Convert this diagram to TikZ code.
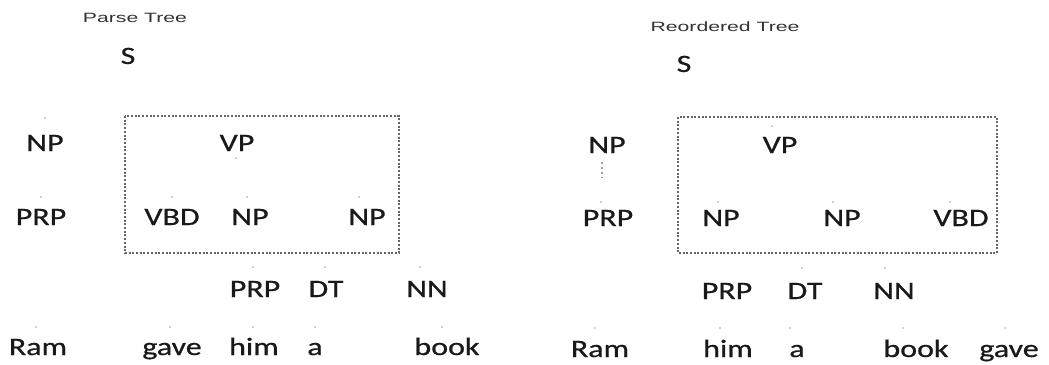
\documentclass[tikz,border=0pt]{standalone}
\usepackage{fontspec}
\setmainfont{Carlito}[FakeBold=0.6]
\newfontfamily\titlefont{Liberation Sans}
\definecolor{boxgray}{HTML}{666666}
\definecolor{dotgray}{HTML}{A0A0A0}
\definecolor{titlegray}{HTML}{333333}
\tikzset{
  tag/.style={anchor=base, inner sep=1pt, xscale=1.28, text=black!90, font=\fontsize{25}{28}\selectfont},
  treetitle/.style={anchor=base, inner sep=1pt, xscale=1.57, text=titlegray, font=\titlefont\fontsize{13.5}{15}\selectfont},
  groupbox/.style={draw=boxgray, line width=2.6pt, dash pattern=on 2pt off 1.7pt},
  stub/.style={fill=dotgray}
}
\begin{document}
\begin{tikzpicture}[x=1pt, y=-1pt]
\useasboundingbox (0,0) rectangle (1049,364);

% parse tree
\node[treetitle] (title1) at (135,22) {Parse Tree};
\node[tag] (s1) at (128,64) {S};
\node[tag] (np1) at (45,151) {NP};
\node[tag] (vp1) at (237,151) {VP};
\node[tag] (prp1) at (41,225) {PRP};
\node[tag] (vbd1) at (172,225) {VBD};
\node[tag] (npa1) at (250,225) {NP};
\node[tag] (npb1) at (367,225) {NP};
\node[tag] (prpa1) at (255,297) {PRP};
\node[tag] (dt1) at (326,297) {DT};
\node[tag] (nn1) at (427,297) {NN};
\node[tag] (ram1) at (38,355) {Ram};
\node[tag] (gave1) at (172,355) {gave};
\node[tag] (him1) at (254,355) {him};
\node[tag] (a1) at (315,355) {a};
\node[tag] (book1) at (447,355) {book};
\draw[groupbox] (125,116) rectangle (399,253);
\foreach \x/\y in {45/118, 236/158, 41/197, 172/197, 247/197, 359/197,
                   253/267, 325/267, 420/267,
                   36/327, 170/327, 253/327, 315/327, 442/327}
  \fill[stub] (\x,\y) circle (0.9);

% reordered tree
\node[treetitle] (title2) at (725,31) {Reordered Tree};
\node[tag] (s2) at (684,72) {S};
\node[tag] (np2) at (607,153) {NP};
\node[tag] (vp2) at (780,153) {VP};
\node[tag] (prp2) at (608,226) {PRP};
\node[tag] (npa2) at (721,226) {NP};
\node[tag] (npb2) at (842,226) {NP};
\node[tag] (vbd2) at (961,226) {VBD};
\node[tag] (prpa2) at (727,299) {PRP};
\node[tag] (dt2) at (805,299) {DT};
\node[tag] (nn2) at (894,299) {NN};
\node[tag] (ram2) at (600,357) {Ram};
\node[tag] (him2) at (728,357) {him};
\node[tag] (a2) at (797,357) {a};
\node[tag] (book2) at (916,357) {book};
\node[tag] (gave2) at (1009,357) {gave};
\draw[groupbox] (678,117) rectangle (997,253);
\draw[dotgray, line width=2.2pt, dash pattern=on 1.8pt off 3pt]
  ([xshift=-5pt]np2.south) ++(0,8) -- ++(0,16);
\foreach \x/\y in {772/126, 601/202, 718/202, 833/202, 950/202,
                   802/268, 885/268,
                   595/328, 720/328, 790/328, 903/328, 1005/328}
  \fill[stub] (\x,\y) circle (0.9);
\end{tikzpicture}
\end{document}
